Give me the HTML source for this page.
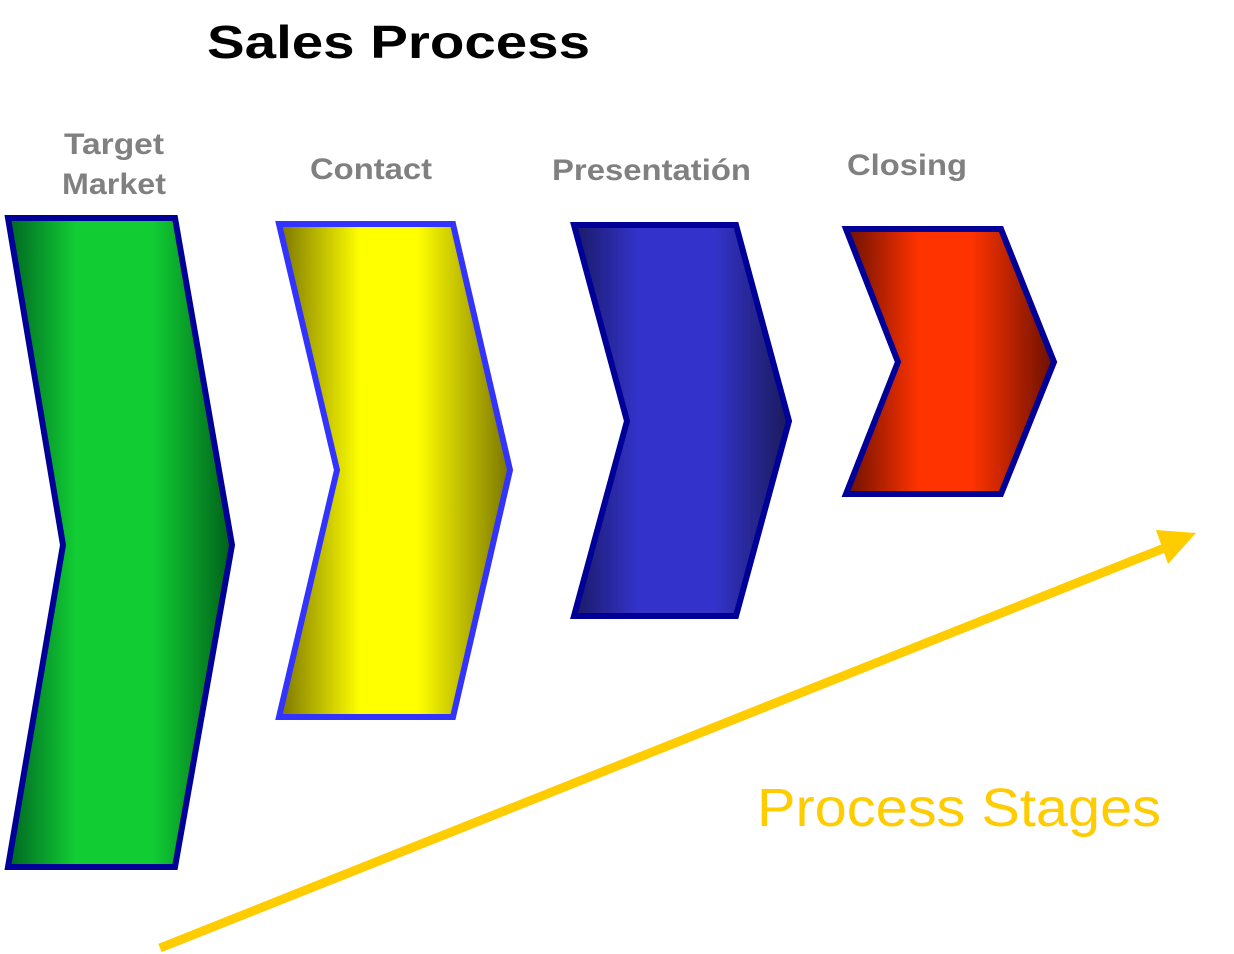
<!DOCTYPE html>
<html><head><meta charset="utf-8"><style>
html,body{margin:0;padding:0;background:#fff;}
svg{display:block;}
text{font-family:"Liberation Sans",Arial,sans-serif;}
</style></head><body>
<svg width="1234" height="954" viewBox="0 0 1234 954" xmlns="http://www.w3.org/2000/svg">
<defs>
<linearGradient id="g" x1="0" x2="1" y1="0" y2="0">
<stop offset="0" stop-color="#006622"/><stop offset="0.3" stop-color="#11cc33"/><stop offset="0.65" stop-color="#11cc33"/><stop offset="1" stop-color="#005f1a"/></linearGradient>
<linearGradient id="y" x1="0" x2="1" y1="0" y2="0">
<stop offset="0" stop-color="#7a7500"/><stop offset="0.35" stop-color="#ffff00"/><stop offset="0.6" stop-color="#ffff00"/><stop offset="1" stop-color="#7a7500"/></linearGradient>
<linearGradient id="b" x1="0" x2="1" y1="0" y2="0">
<stop offset="0" stop-color="#1a1a66"/><stop offset="0.3" stop-color="#3333cc"/><stop offset="0.65" stop-color="#3333cc"/><stop offset="1" stop-color="#1a1a5a"/></linearGradient>
<linearGradient id="r" x1="0" x2="1" y1="0" y2="0">
<stop offset="0" stop-color="#6a1000"/><stop offset="0.35" stop-color="#ff3300"/><stop offset="0.6" stop-color="#ff3300"/><stop offset="1" stop-color="#6a1000"/></linearGradient>
</defs>
<text x="207" y="58" font-size="46" font-weight="bold" fill="#000" textLength="383" lengthAdjust="spacingAndGlyphs">Sales Process</text>
<g font-size="30" font-weight="bold" fill="#808080">
<text x="64" y="154" textLength="100" lengthAdjust="spacingAndGlyphs">Target</text>
<text x="62" y="194" textLength="104" lengthAdjust="spacingAndGlyphs">Market</text>
<text x="310" y="179" textLength="122" lengthAdjust="spacingAndGlyphs">Contact</text>
<text x="552" y="180" textLength="199" lengthAdjust="spacingAndGlyphs">Presentatión</text>
<text x="847" y="175" textLength="120" lengthAdjust="spacingAndGlyphs">Closing</text>
</g>
<polygon points="8,218 175,218 232,545 175,867 8,867 63,545" fill="url(#g)" stroke="#000099" stroke-width="6"/>
<polygon points="279,224 453,224 510,470 453,717 279,717 337,470" fill="url(#y)" stroke="#3333ff" stroke-width="6"/>
<polygon points="574,225 736,225 789,421 736,616 574,616 627,421" fill="url(#b)" stroke="#000099" stroke-width="6"/>
<polygon points="846,229 1001,229 1054,362 1001,494 846,494 898,362" fill="url(#r)" stroke="#000099" stroke-width="6"/>
<line x1="160" y1="948" x2="1172" y2="545" stroke="#ffcc00" stroke-width="9"/>
<polygon points="1196,533 1168,564 1156,530" fill="#ffcc00"/>
<text x="757" y="826" font-size="54" fill="#ffcc00" textLength="404" lengthAdjust="spacingAndGlyphs">Process Stages</text>
</svg>
</body></html>
